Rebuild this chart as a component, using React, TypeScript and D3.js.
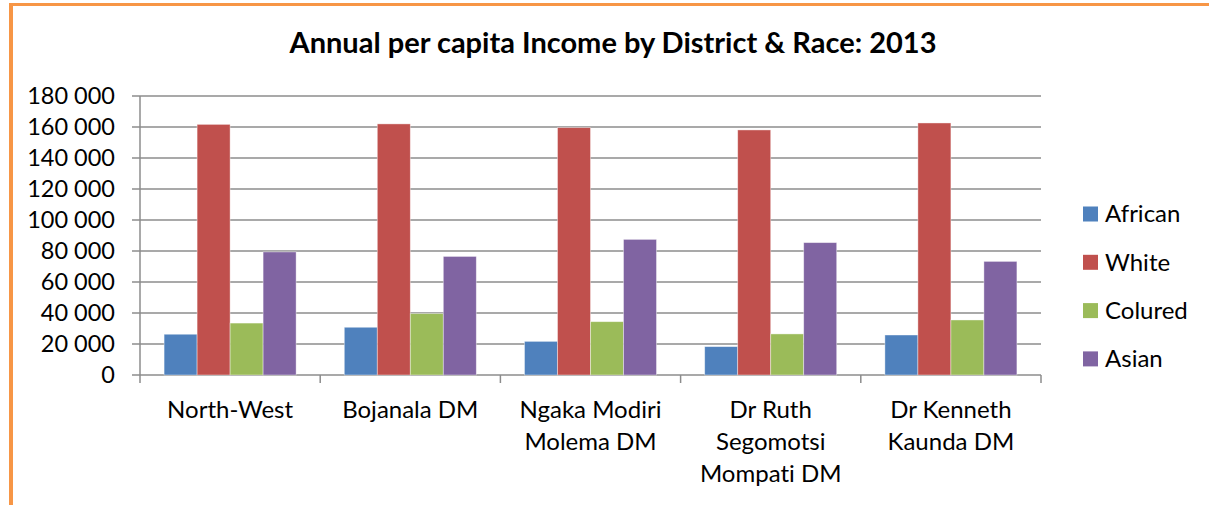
import React, { useEffect, useRef } from "react";
import * as d3 from "d3";

// chart values
const districts = [
  "North-West",
  "Bojanala DM",
  "Ngaka Modiri Molema DM",
  "Dr Ruth Segomotsi Mompati DM",
  "Dr Kenneth Kaunda DM",
];
const districtLines = [
  ["North-West"],
  ["Bojanala DM"],
  ["Ngaka Modiri", "Molema DM"],
  ["Dr Ruth", "Segomotsi", "Mompati DM"],
  ["Dr Kenneth", "Kaunda DM"],
];
const races = ["African", "White", "Colured", "Asian"];
const african = [26300, 30800, 21700, 18300, 25800];
const white = [161700, 162000, 159600, 158100, 162600];
const coloured = [33500, 39600, 34400, 26500, 35500];
const asian = [79400, 76500, 87500, 85400, 73300];
const yTicks = [0, 20000, 40000, 60000, 80000, 100000, 120000, 140000, 160000, 180000];
const title = "Annual per capita Income by District & Race: 2013";

const colors = ["#4F81BD", "#C0504D", "#9BBB59", "#8064A2"];
const FONT = "Lato, 'Liberation Sans', sans-serif";

const W = 1209;
const H = 505;
const plot = { left: 140, right: 1041, top: 96, bottom: 375 };

const App = () => {
  const svgRef = useRef<SVGSVGElement>(null);

  useEffect(() => {
    const svg = d3.select(svgRef.current);
    svg.selectAll("*").remove();

    const series = [african, white, coloured, asian];
    const rows = districts.map((d, i) => ({
      district: d,
      lines: districtLines[i],
      values: races.map((r, j) => ({ race: r, value: series[j][i], color: colors[j] })),
    }));

    const x0 = d3.scaleBand<string>().domain(districts).range([plot.left, plot.right]);
    const x1 = d3
      .scaleBand<string>()
      .domain(races)
      .range([0, x0.bandwidth()])
      .paddingInner(0)
      .paddingOuter(0.73);
    const y = d3.scaleLinear().domain([0, 180000]).range([plot.bottom, plot.top]);
    const fmt = d3.formatLocale({ decimal: ".", thousands: " ", grouping: [3], currency: ["", ""] }).format(",d");

    // orange frame, only top and left edges are in view
    svg
      .append("line")
      .attr("x1", 9)
      .attr("x2", W)
      .attr("y1", 4.5)
      .attr("y2", 4.5)
      .attr("stroke", "#F79646")
      .attr("stroke-width", 3);
    svg
      .append("line")
      .attr("x1", 11)
      .attr("x2", 11)
      .attr("y1", 3)
      .attr("y2", H)
      .attr("stroke", "#F79646")
      .attr("stroke-width", 4);

    svg
      .append("text")
      .attr("x", 613)
      .attr("y", 53)
      .attr("text-anchor", "middle")
      .attr("font-family", FONT)
      .attr("font-weight", "bold")
      .attr("font-size", 29)
      .attr("fill", "#000")
      .text(title);

    // gridlines + y ticks
    svg
      .append("g")
      .selectAll("line")
      .data(yTicks)
      .join("line")
      .attr("x1", plot.left - 8)
      .attr("x2", plot.right)
      .attr("y1", (d) => y(d))
      .attr("y2", (d) => y(d))
      .attr("stroke", "#8c8c8c")
      .attr("stroke-width", 1.5);

    svg
      .append("g")
      .selectAll("text")
      .data(yTicks)
      .join("text")
      .attr("x", 115)
      .attr("y", (d) => y(d))
      .attr("dy", "0.35em")
      .attr("text-anchor", "end")
      .attr("font-family", FONT)
      .attr("font-size", 23.5)
      .attr("fill", "#000")
      .text((d) => fmt(d));

    // y axis line and x ticks
    svg
      .append("line")
      .attr("x1", plot.left)
      .attr("x2", plot.left)
      .attr("y1", plot.top)
      .attr("y2", plot.bottom + 8)
      .attr("stroke", "#8c8c8c")
      .attr("stroke-width", 1.5);

    const xTicks = districts.map((d) => x0(d) as number).concat([plot.right]);
    svg
      .append("g")
      .selectAll("line")
      .data(xTicks.slice(1))
      .join("line")
      .attr("x1", (d) => d)
      .attr("x2", (d) => d)
      .attr("y1", plot.bottom)
      .attr("y2", plot.bottom + 8)
      .attr("stroke", "#8c8c8c")
      .attr("stroke-width", 1.5);

    // bars
    const groups = svg
      .append("g")
      .selectAll("g")
      .data(rows)
      .join("g")
      .attr("transform", (d) => `translate(${x0(d.district)},0)`);

    groups
      .selectAll("rect")
      .data((d) => d.values)
      .join("rect")
      .attr("x", (d) => x1(d.race) as number)
      .attr("width", x1.bandwidth())
      .attr("y", (d) => y(d.value))
      .attr("height", (d) => y(0) - y(d.value))
      .attr("fill", (d) => d.color)
      .attr("stroke", "rgba(255,255,255,0.5)")
      .attr("stroke-width", 0.8);

    // category labels
    const labels = svg
      .append("g")
      .selectAll("text")
      .data(rows)
      .join("text")
      .attr("x", (d) => (x0(d.district) as number) + x0.bandwidth() / 2)
      .attr("y", 418)
      .attr("text-anchor", "middle")
      .attr("font-family", FONT)
      .attr("font-size", 24)
      .style("font-variant-ligatures", "none")
      .attr("fill", "#000");
    labels
      .selectAll("tspan")
      .data((d) => d.lines)
      .join("tspan")
      .attr("x", function () {
        return (this as SVGTSpanElement).parentElement!.getAttribute("x");
      })
      .attr("dy", (d, i) => (i === 0 ? 0 : 32))
      .text((d) => d);

    // legend
    const legend = svg
      .append("g")
      .selectAll("g")
      .data(races)
      .join("g")
      .attr("transform", (d, i) => `translate(1083,${214 + i * 48.3})`);
    legend
      .append("rect")
      .attr("x", 0)
      .attr("y", -7.5)
      .attr("width", 15)
      .attr("height", 15)
      .attr("fill", (d, i) => colors[i]);
    legend
      .append("text")
      .attr("x", 22)
      .attr("dy", "0.35em")
      .attr("font-family", FONT)
      .attr("font-size", 24)
      .attr("fill", "#000")
      .text((d) => d);
  }, []);

  return (
    <svg
      ref={svgRef}
      width={W}
      height={H}
      style={{ position: "absolute", left: 0, top: 0 }}
    />
  );
};

export default App;
